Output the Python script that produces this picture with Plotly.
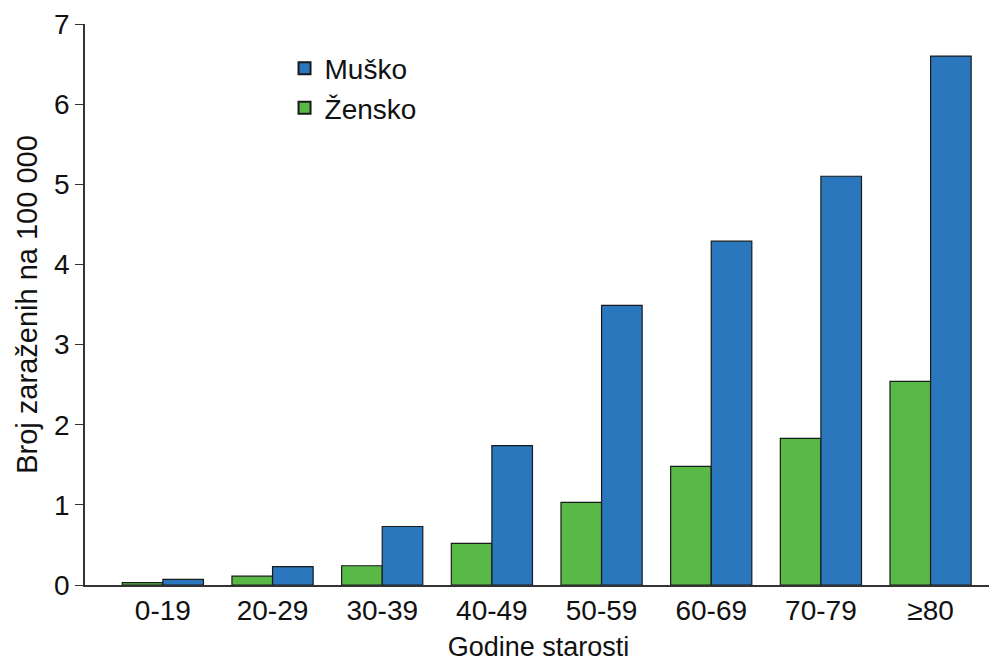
import plotly.graph_objects as go

categories = ["0-19", "20-29", "30-39", "40-49", "50-59", "60-69", "70-79", "≥80"]
musko = [0.07, 0.23, 0.73, 1.74, 3.49, 4.29, 5.10, 6.60]
zensko = [0.03, 0.11, 0.24, 0.52, 1.03, 1.48, 1.83, 2.54]

FONT = "Liberation Sans, Arial, sans-serif"

fig = go.Figure()
fig.add_trace(go.Bar(
    x=categories, y=zensko, name="Žensko",
    marker=dict(color="#58b947", line=dict(color="#1a1a1a", width=1.2)),
))
fig.add_trace(go.Bar(
    x=categories, y=musko, name="Muško",
    marker=dict(color="#2a77bd", line=dict(color="#1a1a1a", width=1.2)),
))

fig.update_layout(
    width=997, height=664,
    barmode="group", bargap=0.26, bargroupgap=0,
    plot_bgcolor="white", paper_bgcolor="white",
    margin=dict(l=77, r=13, t=16, b=87, autoexpand=False),
    font=dict(family=FONT, size=28, color="#111"),
    legend=dict(
        x=0.22, y=0.965, xanchor="left", yanchor="top",
        traceorder="reversed", font=dict(size=28),
        bgcolor="rgba(0,0,0,0)", itemsizing="constant",
    ),
    xaxis=dict(
        type="category", range=[-0.71, 7.56],
        showline=True, linecolor="#333", linewidth=1.5,
        ticks="", showgrid=False, automargin=False,
        tickfont=dict(size=28),
        title=dict(text="Godine starosti", font=dict(size=27), standoff=12),
    ),
    yaxis=dict(
        range=[0, 7], dtick=1, automargin=False,
        showline=True, linecolor="#333", linewidth=1.5,
        ticks="outside", ticklen=8, tickcolor="#333", tickwidth=1.2,
        showgrid=False, zeroline=False,
        tickfont=dict(size=28),
        title=dict(text="Broj zaraženih na 100 000", font=dict(size=29), standoff=8),
    ),
)

fig.write_html("out.html")
